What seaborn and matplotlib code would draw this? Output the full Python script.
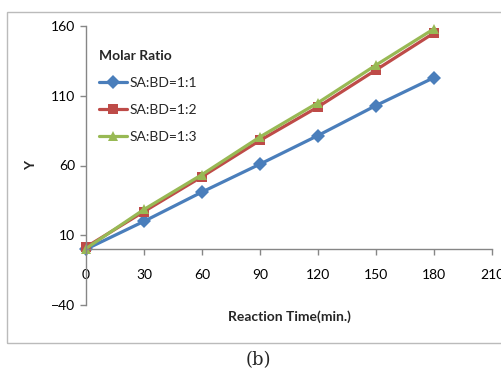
import matplotlib
matplotlib.use("Agg")
import matplotlib.pyplot as plt
import seaborn as sns
import pandas as pd
from matplotlib.patches import Rectangle

# ---- data ----
times = [0, 30, 60, 90, 120, 150, 180]
series_names = ["SA:BD=1:1", "SA:BD=1:2", "SA:BD=1:3"]
y_11 = [0, 20, 41, 61, 81.5, 103, 123]
y_12 = [1.5, 27, 52, 78, 102, 128.5, 155]
y_13 = [0.5, 28.5, 53.5, 80.5, 105, 132, 158]
x_ticks = [0, 30, 60, 90, 120, 150, 180, 210]
y_ticks = [-40, 10, 60, 110, 160]
colors = ["#4A7EBB", "#BE4B48", "#98B954"]

rows = []
for name, vals in zip(series_names, [y_11, y_12, y_13]):
    for t, v in zip(times, vals):
        rows.append({"time": t, "Y": v, "series": name})
df = pd.DataFrame(rows)

sns.set_theme(style="white")
plt.rcParams['font.family'] = ['Lato', 'DejaVu Sans']

W, H = 502, 369
fig = plt.figure(figsize=(W / 100, H / 100), dpi=100)
ax = fig.add_axes([86 / W, 1 - 305 / H, (492 - 86) / W, (305 - 26) / H])

sns.lineplot(data=df, x="time", y="Y", hue="series", style="series",
             hue_order=series_names, style_order=series_names,
             palette=colors, markers=["D", "s", "^"], dashes=False,
             linewidth=2.3, markersize=6.8, markeredgewidth=0,
             ax=ax, clip_on=False)

ax.set_xlim(0, 210)
ax.set_ylim(-40, 160)
ax.set_xticks(x_ticks)
ax.set_yticks(y_ticks)
ax.set_xlabel("")
ax.set_ylabel("")

for s in ["top", "right"]:
    ax.spines[s].set_visible(False)
ax.spines["bottom"].set_position(("data", 0))
for s in ["bottom", "left"]:
    ax.spines[s].set_color("#868686")
    ax.spines[s].set_linewidth(1.0)
ax.tick_params(axis="both", which="both", direction="out", length=4,
               width=1.0, color="#868686", labelsize=10, labelcolor="#000000")
ax.tick_params(axis="x", pad=10, bottom=True)
ax.tick_params(axis="y", pad=4, left=True)

fig.text(289 / W, 1 - 317 / H, "Reaction Time(min.)", ha="center", va="center",
         fontsize=10, fontweight="bold")
fig.text(31 / W, 1 - 165 / H, "Y", ha="center", va="center", rotation=90,
         fontsize=10, fontweight="bold")

leg = ax.legend(title="Molar Ratio", loc="upper left",
                bbox_to_anchor=(1 / 406, 1 - 11 / 279), frameon=False,
                fontsize=10, title_fontsize=10, handlelength=2.0,
                labelspacing=1.1, handletextpad=0.15, alignment="left")
leg.get_title().set_fontweight("bold")

# outer border
fig.patches.append(Rectangle((7 / W, 1 - 343 / H), (510 - 7) / W, (343 - 12) / H,
                             transform=fig.transFigure, fill=False,
                             edgecolor="#BBBBBB", linewidth=1.0))

fig.text(258 / W, 1 - 360 / H, "(b)", ha="center", va="center",
         fontsize=13, family="DejaVu Serif")

fig.savefig("out.png", dpi=100)
